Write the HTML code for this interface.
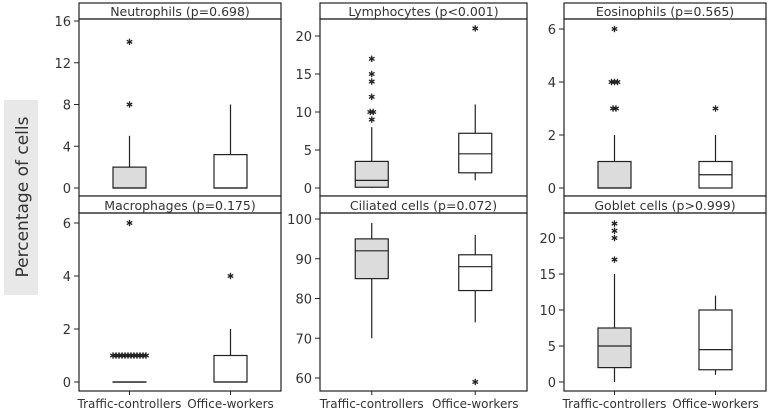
<!DOCTYPE html>
<html><head><meta charset="utf-8"><style>
body{margin:0;background:#fff;}
svg{display:block;font-family:"DejaVu Sans","Liberation Sans",sans-serif;}
</style></head><body>
<svg id="c" width="770" height="411" viewBox="0 0 770 411">
<rect x="4" y="100" width="34" height="195" fill="#e8e8e8"/>
<text x="28" y="197" transform="rotate(-90 28 197)" text-anchor="middle" font-size="17" fill="#333">Percentage of cells</text>
</svg>
<script>
const categories = ["Traffic-controllers","Office-workers"];
const titles = ["Neutrophils (p=0.698)","Lymphocytes (p<0.001)","Eosinophils (p=0.565)","Macrophages (p=0.175)","Ciliated cells (p=0.072)","Goblet cells (p>0.999)"];
const yTicks = [[0,4,8,12,16],[0,5,10,15,20],[0,2,4,6],[0,2,4,6],[60,70,80,90,100],[0,5,10,15,20]];
// [whiskerLow, q1, median, q3, whiskerHigh] per category
const tcStats = [[0,0,0,2,5],[0,0.1,1,3.5,8],[0,0,0,1,2],[0,0,0,0,0],[70,85,92,95,99],[0,2,5,7.5,15]];
const owStats = [[0,0,0,3.2,8],[1,2,4.5,7.2,11],[0,0,0.5,1,2],[0,0,0,1,2],[74,82,88,91,96],[1,1.7,4.5,10,12]];
const tcOutliers = [[8,14],[9,10,10,12,14,15,17],[3,3,4,4,4,6],[1,1,1,1,1,1,1,1,1,1,1,1,6],[],[17,20,21,22]];
const owOutliers = [[],[21],[3],[4],[59],[]];
const cols=[[79,281],[320,527],[564,766]];
const rows=[[3,19,196],[196,213,391]];
const anchors=[[16,21,0,188],[20,36,0,188],[6,29,0,188],[6,223,0,382],[100,219,60,378],[20,238,0,382]];
const svg=document.getElementById('c');
const NS='http://www.w3.org/2000/svg';
function mk(t,a,p){const e=document.createElementNS(NS,t);for(const k in a)e.setAttribute(k,a[k]);(p||svg).appendChild(e);return e;}
function star(g,x,y){for(let i=0;i<3;i++){const a=i*Math.PI/3+Math.PI/2;mk('line',{x1:x-3.2*Math.cos(a),y1:y-3.2*Math.sin(a),x2:x+3.2*Math.cos(a),y2:y+3.2*Math.sin(a),stroke:'#222','stroke-width':1.3},g);}}
for(let p=0;p<6;p++){
  const c=cols[p%3], r=rows[Math.floor(p/3)], an=anchors[p];
  const g=mk('g',{});
  
  
  const y=v=>an[1]+(v-an[0])*(an[3]-an[1])/(an[2]-an[0]);
  const W=c[1]-c[0];
  const cx=[c[0]+W*0.25,c[0]+W*0.75];
  const tr=mk('rect',{x:c[0],y:r[0],width:W,height:r[1]-r[0],fill:'#fff',stroke:'#222','stroke-width':1.2},g);
  
  
  const tt=mk('text',{x:c[0]+W/2,y:r[1]-3,'text-anchor':'middle','font-size':12.5,fill:'#333'},g);tt.textContent=titles[p];
  
  
  const fr=mk('rect',{x:c[0],y:r[1],width:W,height:r[2]-r[1],fill:'none',stroke:'#222','stroke-width':1.2},g);
  
  
  yTicks[p].forEach(t=>{const yy=y(t);mk('line',{x1:c[0]-5,x2:c[0],y1:yy,y2:yy,stroke:'#222'},g);
    const l=mk('text',{x:c[0]-8,y:yy+5,'text-anchor':'end','font-size':13,fill:'#333'},g);l.textContent=t;
    
    });
  [tcStats[p],owStats[p]].forEach((s,i)=>{
    const x=cx[i], bw=33;
    mk('line',{x1:x,x2:x,y1:y(s[0]),y2:y(s[1]),stroke:'#222','stroke-width':1.2},g);
    mk('line',{x1:x,x2:x,y1:y(s[3]),y2:y(s[4]),stroke:'#222','stroke-width':1.2},g);
    const b=mk('rect',{x:x-bw/2,y:y(s[3]),width:bw,height:Math.max(0.1,y(s[1])-y(s[3])),fill:i?'#fff':'#dcdcdc',stroke:'#222','stroke-width':1.2},g);
    
    
    mk('line',{x1:x-bw/2,x2:x+bw/2,y1:y(s[2]),y2:y(s[2]),stroke:'#222','stroke-width':1.2},g);
    const outs=i?owOutliers[p]:tcOutliers[p];const seen={};
    outs.forEach(v=>{const n=outs.filter(o=>o===v).length;seen[v]=(seen[v]||0)+1;const k=seen[v]-1;
      const ox=x+(k-(n-1)/2)*3;star(g,ox,y(v));});
    if(p>=3){mk('line',{x1:x,x2:x,y1:r[2],y2:r[2]+4,stroke:'#222'},g);
      const xl=mk('text',{x:x,y:r[2]+17,'text-anchor':'middle','font-size':12,fill:'#333'},g);xl.textContent=categories[i];
      
      }
  });
}
</script>
</body></html>
